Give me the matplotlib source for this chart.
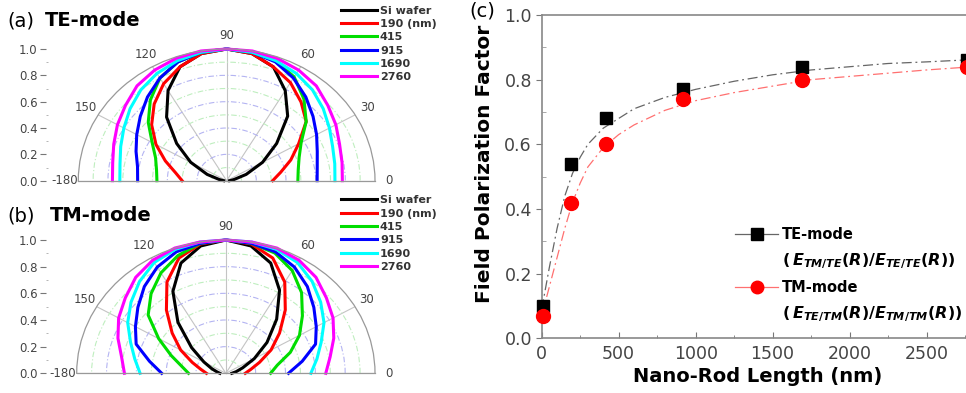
import numpy as np
import matplotlib.pyplot as plt
from matplotlib.lines import Line2D
from matplotlib.ticker import FormatStrFormatter, MultipleLocator

plt.rcParams['font.family'] = ['DejaVu Sans']
plt.rcParams['mathtext.fontset'] = 'custom'
plt.rcParams['mathtext.rm'] = 'DejaVu Sans:bold'
plt.rcParams['mathtext.it'] = 'DejaVu Sans:italic:bold'
plt.rcParams['mathtext.bf'] = 'DejaVu Sans:bold'

# ---- polar panels (a) and (b): normalized field vs angle ----
angles = np.arange(0, 181, 10)          # degrees, 0 = right, 180 = left
theta_ticks = [0, 30, 60, 90, 120, 150, 180]
theta_labels = ['0', '30', '60', '90', '120', '150', '-180']
samples = ['Si wafer', '190 (nm)', '415', '915', '1690', '2760']
colors = ['black', '#ff0000', '#00dd00', '#0000ff', '#00ffff', '#ff00ff']

te_si   = [0.02, 0.05, 0.14, 0.28, 0.44, 0.64, 0.79, 0.92, 0.98, 1.00, 0.98, 0.92, 0.79, 0.63, 0.44, 0.28, 0.14, 0.05, 0.02]
te_190  = [0.31, 0.37, 0.46, 0.56, 0.70, 0.78, 0.86, 0.92, 0.98, 1.00, 0.98, 0.92, 0.85, 0.76, 0.66, 0.55, 0.44, 0.35, 0.30]
te_415  = [0.48, 0.49, 0.52, 0.58, 0.70, 0.81, 0.91, 0.97, 0.99, 1.00, 0.99, 0.96, 0.90, 0.80, 0.69, 0.58, 0.51, 0.48, 0.47]
te_915  = [0.61, 0.62, 0.65, 0.70, 0.76, 0.83, 0.90, 0.96, 0.99, 1.00, 0.99, 0.96, 0.90, 0.83, 0.76, 0.70, 0.65, 0.61, 0.60]
te_1690 = [0.73, 0.74, 0.76, 0.80, 0.85, 0.90, 0.94, 0.97, 0.99, 1.00, 0.99, 0.97, 0.94, 0.90, 0.85, 0.80, 0.76, 0.73, 0.72]
te_2760 = [0.78, 0.79, 0.81, 0.85, 0.89, 0.94, 0.97, 0.99, 1.00, 1.00, 1.00, 0.99, 0.97, 0.94, 0.89, 0.85, 0.81, 0.78, 0.77]

tm_si   = [0.04, 0.07, 0.12, 0.22, 0.36, 0.53, 0.72, 0.88, 0.97, 1.00, 0.97, 0.88, 0.71, 0.50, 0.30, 0.17, 0.10, 0.06, 0.04]
tm_190  = [0.13, 0.17, 0.24, 0.35, 0.47, 0.62, 0.79, 0.92, 0.985, 1.00, 0.985, 0.92, 0.79, 0.62, 0.47, 0.35, 0.24, 0.17, 0.13]
tm_415  = [0.30, 0.35, 0.46, 0.57, 0.67, 0.79, 0.89, 0.96, 0.99, 1.00, 0.99, 0.94, 0.87, 0.78, 0.68, 0.52, 0.39, 0.30, 0.25]
tm_915  = [0.42, 0.52, 0.64, 0.70, 0.77, 0.85, 0.92, 0.97, 0.99, 1.00, 0.99, 0.97, 0.92, 0.85, 0.77, 0.70, 0.64, 0.52, 0.43]
tm_1690 = [0.57, 0.62, 0.68, 0.76, 0.83, 0.90, 0.96, 0.99, 1.00, 1.00, 1.00, 0.99, 0.96, 0.90, 0.83, 0.76, 0.68, 0.62, 0.575]
tm_2760 = [0.67, 0.71, 0.77, 0.83, 0.88, 0.94, 0.98, 1.00, 1.00, 1.00, 1.00, 1.00, 0.98, 0.94, 0.88, 0.83, 0.77, 0.71, 0.68]

te_curves = [te_si, te_190, te_415, te_915, te_1690, te_2760]
tm_curves = [tm_si, tm_190, tm_415, tm_915, tm_1690, tm_2760]

# ---- panel (c): field polarization factor ----
rod_len = [10, 190, 415, 915, 1690, 2760]
te_factor = [0.10, 0.54, 0.68, 0.77, 0.84, 0.86]
tm_factor = [0.07, 0.42, 0.60, 0.74, 0.80, 0.84]
fit_x  = [0, 50, 100, 150, 200, 250, 300, 400, 500, 600, 800, 1000, 1250, 1500, 1750, 2000, 2250, 2500, 2800]
te_fit = [0.09, 0.22, 0.34, 0.44, 0.51, 0.56, 0.60, 0.65, 0.68, 0.71, 0.745, 0.77, 0.795, 0.815, 0.83, 0.84, 0.85, 0.855, 0.862]
tm_fit = [0.07, 0.16, 0.25, 0.34, 0.42, 0.48, 0.53, 0.59, 0.63, 0.66, 0.705, 0.735, 0.76, 0.78, 0.80, 0.81, 0.82, 0.83, 0.84]

W, H = 966, 393
fig = plt.figure(figsize=(W / 100, H / 100), dpi=100)


def polar_panel(left, right, base, top, curves, leg_top, title, title_x, title_y):
    rx = right - left
    ry = base - top
    # half wedge sits in the middle half of the box height
    ax = fig.add_axes([left / W, (H - base - ry / 2) / H, rx / W, 2 * ry / H],
                      projection='polar')
    ax.set_thetamin(0)
    ax.set_thetamax(180)
    ax.set_aspect('auto')
    ax.set_ylim(0, 1)
    ax.patch.set_visible(False)
    lines = []
    for r, c in zip(curves, colors):
        ln, = ax.plot(np.deg2rad(angles), r, color=c, lw=2.2, clip_on=False)
        lines.append(ln)
    ax.set_thetagrids(theta_ticks, labels=theta_labels)
    ax.tick_params(axis='x', length=0, pad=3, labelsize=8.5, labelcolor='#444')
    ax.set_yticks([0.2, 0.4, 0.6, 0.8])
    ax.set_yticks([0.1, 0.3, 0.5, 0.7, 0.9], minor=True)
    ax.set_yticklabels([])
    ax.tick_params(axis='y', which='both', length=0)
    ax.xaxis.grid(True, color='#c4c4c4', ls='-', lw=0.8)
    ax.yaxis.grid(True, which='major', color='#b4b4f2', ls=(0, (5, 2, 1, 2)), lw=0.8)
    ax.yaxis.grid(True, which='minor', color='#bfeebf', ls=(0, (5, 2, 1, 2)), lw=0.8)
    for s in ax.spines.values():
        s.set_color('#999999')
        s.set_linewidth(0.9)

    # radial scale drawn on the left
    rax = fig.add_axes([46 / W, (H - base) / H, 0.0005, ry / H])
    rax.set_ylim(0, 1)
    rax.yaxis.set_major_locator(MultipleLocator(0.2))
    rax.yaxis.set_minor_locator(MultipleLocator(0.1))
    rax.yaxis.set_major_formatter(FormatStrFormatter('%.1f'))
    rax.set_xticks([])
    for s in rax.spines.values():
        s.set_visible(False)
    rax.patch.set_visible(False)
    rax.tick_params(axis='y', which='major', direction='out', length=4, pad=2,
                    labelsize=8.5, color='#777777', labelcolor='#444')
    rax.tick_params(axis='y', which='minor', direction='in', length=1.5, color='#aaaaaa')

    leg = fig.legend(lines, samples, loc='upper left',
                     bbox_to_anchor=(341 / W, 1 - leg_top / H),
                     frameon=False, prop={'weight': 'bold', 'size': 8},
                     handlelength=3.25, handletextpad=0.25, labelspacing=0.3,
                     borderpad=0, borderaxespad=0)
    for t in leg.get_texts():
        t.set_color('#333333')

    fig.text(7 / W, 1 - title_y / H, title[0], fontsize=14, va='center', ha='left')
    fig.text(title_x / W, 1 - title_y / H, title[1], fontsize=14, fontweight='bold',
             va='center', ha='left')


polar_panel(78.3, 375, 180.7, 49, te_curves, 5.5, ('(a)', 'TE-mode'), 45, 21)
polar_panel(76.7, 375, 373.3, 240, tm_curves, 195.2, ('(b)', 'TM-mode'), 50, 215.5)

# ---- panel (c) ----
ax = fig.add_axes([541.7 / W, 54.7 / H, 431 / W, 323.3 / H])
ax.plot(fit_x, te_fit, color='#666666', lw=0.9, ls=(0, (8, 3, 1.5, 3)))
ax.plot(fit_x, tm_fit, color='#ff7070', lw=0.9, ls=(0, (8, 3, 1.5, 3)))
ax.plot(rod_len, te_factor, ls='none', marker='s', ms=9, color='black', clip_on=False, zorder=3)
ax.plot(rod_len, tm_factor, ls='none', marker='o', ms=10, color='#ff0000', clip_on=False, zorder=3)
ax.set_xlim(0, 2800)
ax.set_ylim(0, 1.0)
ax.xaxis.set_major_locator(MultipleLocator(500))
ax.xaxis.set_minor_locator(MultipleLocator(250))
ax.yaxis.set_major_locator(MultipleLocator(0.2))
ax.yaxis.set_minor_locator(MultipleLocator(0.1))
ax.yaxis.set_major_formatter(FormatStrFormatter('%.1f'))
ax.tick_params(axis='x', which='major', direction='in', length=4, pad=5,
               labelsize=12.5, color='#777777', labelcolor='#444')
ax.tick_params(axis='x', which='minor', direction='in', length=2.5, color='#777777')
ax.tick_params(axis='y', which='major', direction='out', length=4, pad=3,
               labelsize=12.5, color='#777777', labelcolor='#444')
ax.tick_params(axis='y', which='minor', direction='in', length=3, color='#999999')
for s in ax.spines.values():
    s.set_color('#888888')
    s.set_linewidth(1.2)
ax.set_xlabel('Nano-Rod Length (nm)', fontsize=14, fontweight='bold', labelpad=3)
ax.set_ylabel('Field Polarization Factor', fontsize=14.5, fontweight='bold')
ax.yaxis.set_label_coords((494 - 541.7) / 431, (338.3 - 164) / 323.3)
fig.text(482 / W, 1 - 11 / H, '(c)', fontsize=14, ha='center', va='center')

blank = Line2D([], [], ls='none')
handles = [
    Line2D([], [], color='#666666', lw=0.9, marker='s', ms=8, mfc='black', mec='black'),
    blank,
    Line2D([], [], color='#ff7070', lw=0.9, marker='o', ms=9, mfc='#ff0000', mec='#ff0000'),
    blank,
]
labels = ['TE-mode', r'$(\,E_{TM/TE}(R)/E_{TE/TE}(R))$',
          'TM-mode', r'$(\,E_{TE/TM}(R)/E_{TM/TM}(R))$']
leg = ax.legend(handles, labels, loc='upper left',
                bbox_to_anchor=(735 / W, 1 - 227 / H), bbox_transform=fig.transFigure,
                frameon=False, prop={'weight': 'bold', 'size': 10.5},
                handlelength=2.95, handletextpad=0.27, labelspacing=0.62,
                borderpad=0, borderaxespad=0)
for i in (1, 3):
    leg.get_texts()[i].set_fontsize(11.5)

fig.savefig('out.png', dpi=100)
